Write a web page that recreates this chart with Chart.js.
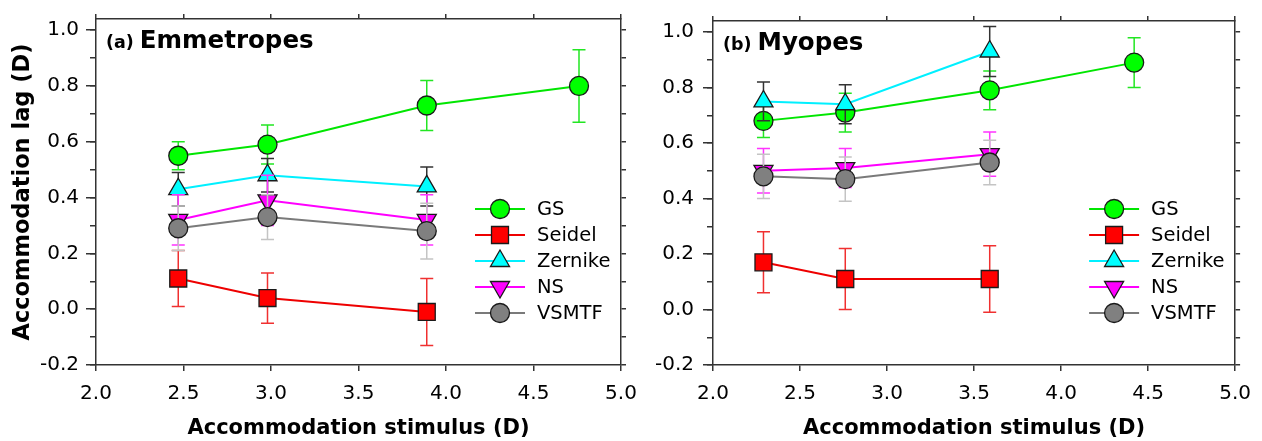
<!DOCTYPE html>
<html><head><meta charset="utf-8">
<script src="https://cdn.jsdelivr.net/npm/chart.js@4"></script>
<style>
html,body{margin:0;padding:0;background:#fff;}
#wrap{position:relative;width:1262px;height:441px;overflow:hidden;background:#fff;}
canvas{position:absolute;top:0;}
</style></head><body>
<div id="wrap">
<canvas id="ca" width="650" height="441" style="left:0px"></canvas>
<canvas id="cb" width="612" height="441" style="left:650px"></canvas>
</div>
<script>
// ---------- data ----------
const seriesNames = ['GS', 'Seidel', 'Zernike', 'NS', 'VSMTF'];
const yTickValues = [-0.2, 0.0, 0.2, 0.4, 0.6, 0.8, 1.0];
const xTickValues = [2.0, 2.5, 3.0, 3.5, 4.0, 4.5, 5.0];

// (a) Emmetropes
const emmStimulus = [2.47, 2.98, 3.89, 4.76];
const emmGS      = [0.55, 0.59, 0.73, 0.80];
const emmGSErr   = [0.05, 0.07, 0.09, 0.13];
const emmSeidel    = [0.11, 0.04, -0.01];
const emmSeidelErr = [0.10, 0.09, 0.12];
const emmZernike    = [0.43, 0.48, 0.44];
const emmZernikeErr = [0.06, 0.06, 0.07];
const emmNS    = [0.32, 0.39, 0.32];
const emmNSErr = [0.09, 0.09, 0.09];
const emmVSMTF    = [0.29, 0.33, 0.28];
const emmVSMTFErr = [0.08, 0.08, 0.10];

// (b) Myopes
const myoStimulus = [2.29, 2.76, 3.59, 4.42];
const myoGS      = [0.68, 0.71, 0.79, 0.89];
const myoGSErr   = [0.06, 0.07, 0.07, 0.09];
const myoSeidel    = [0.17, 0.11, 0.11];
const myoSeidelErr = [0.11, 0.11, 0.12];
const myoZernike    = [0.75, 0.74, 0.93];
const myoZernikeErr = [0.07, 0.07, 0.09];
const myoNS    = [0.50, 0.51, 0.56];
const myoNSErr = [0.08, 0.07, 0.08];
const myoVSMTF    = [0.48, 0.47, 0.53];
const myoVSMTFErr = [0.08, 0.08, 0.08];

// ---------- styles ----------
const STY = [
  {line:'#00e600', fill:'#00ff00', err:'#22e622', shape:'circle',   r:9.5, rot:0},
  {line:'#ee0000', fill:'#ff0000', err:'#f03030', shape:'rect',     r:12,  rot:0},
  {line:'#00f0ff', fill:'#00ffff', err:'#333333', shape:'triangle', r:11,  rot:0},
  {line:'#ff00ff', fill:'#ff00ff', err:'#ff33ff', shape:'triangle', r:11,  rot:180},
  {line:'#7a7a7a', fill:'#808080', err:'#c4c4c4', shape:'circle',   r:9.5, rot:0}
];
const FONT = '"DejaVu Sans", sans-serif';
Chart.defaults.font.family = FONT;
Chart.defaults.color = '#000';

function makeDatasets(xs, vals, errs) {
  return seriesNames.map((name, i) => ({
    label: name,
    data: vals[i].map((v, k) => ({x: xs[k], y: v})),
    errors: errs[i],
    borderColor: STY[i].line,
    backgroundColor: STY[i].fill,
    pointBackgroundColor: STY[i].fill,
    pointBorderColor: '#1a1a1a',
    pointBorderWidth: 1.3,
    pointStyle: STY[i].shape,
    pointRadius: STY[i].r,
    pointHoverRadius: STY[i].r,
    pointRotation: STY[i].rot,
    borderWidth: 2,
    tension: 0,
    fill: false,
    order: seriesNames.length - i
  }));
}

const errorBarPlugin = {
  id: 'errbars',
  beforeDatasetDraw(chart, args) {
    const ds = chart.data.datasets[args.index];
    const {ctx, chartArea} = chart;
    const xs = chart.scales.x, ys = chart.scales.y;
    ctx.save();
    ctx.beginPath();
    ctx.rect(chartArea.left, chartArea.top, chartArea.right - chartArea.left, chartArea.bottom - chartArea.top);
    ctx.clip();
    ctx.strokeStyle = STY[args.index].err;
    ctx.lineWidth = 1.5;
    ds.data.forEach((p, k) => {
      const e = ds.errors[k];
      const px = xs.getPixelForValue(p.x);
      const yt = ys.getPixelForValue(p.y + e);
      const yb = ys.getPixelForValue(p.y - e);
      ctx.beginPath();
      ctx.moveTo(px, yt); ctx.lineTo(px, yb);
      ctx.moveTo(px - 6.5, yt); ctx.lineTo(px + 6.5, yt);
      ctx.moveTo(px - 6.5, yb); ctx.lineTo(px + 6.5, yb);
      ctx.stroke();
    });
    ctx.restore();
  }
};

const legendPlugin = {
  id: 'sideLegend',
  afterDraw(chart, args, opts) {
    const {ctx, chartArea} = chart;
    const mx = chartArea.right - opts.dx;
    chart.data.datasets.forEach((ds, i) => {
      const y = chartArea.top + opts.top + i * opts.step;
      ctx.save();
      ctx.strokeStyle = ds.borderColor; ctx.lineWidth = 2;
      ctx.beginPath(); ctx.moveTo(mx - 25, y); ctx.lineTo(mx + 25, y); ctx.stroke();
      ctx.fillStyle = ds.pointBackgroundColor;
      ctx.strokeStyle = ds.pointBorderColor;
      ctx.lineWidth = ds.pointBorderWidth;
      Chart.helpers.drawPoint(ctx, {pointStyle: ds.pointStyle, radius: ds.pointRadius,
        rotation: ds.pointRotation, borderWidth: ds.pointBorderWidth}, mx, y);
      ctx.fillStyle = '#000';
      ctx.font = '19.5px ' + FONT;
      ctx.textBaseline = 'middle'; ctx.textAlign = 'left';
      ctx.fillText(ds.label, mx + 37, y + 1);
      ctx.restore();
    });
  }
};

const panelTitlePlugin = {
  id: 'panelTitle',
  afterDraw(chart, args, opts) {
    const {ctx, chartArea} = chart;
    ctx.save();
    ctx.fillStyle = '#000'; ctx.textBaseline = 'alphabetic'; ctx.textAlign = 'left';
    const x0 = chartArea.left + 10, yb = chartArea.top + 29;
    ctx.font = 'bold 17.5px ' + FONT;
    ctx.fillText(opts.tag, x0, yb);
    const w = ctx.measureText(opts.tag).width;
    ctx.font = 'bold 24.5px ' + FONT;
    ctx.fillText(opts.name, x0 + w + 6, yb);
    ctx.restore();
  }
};

const AXC = '#333';
function yFmt(v) { const r = Math.round(v * 10) / 10; return yTickValues.includes(r) ? r.toFixed(1) : ''; }
function xFmt(v) { return xTickValues.includes(v) ? v.toFixed(1) : ''; }

function makeScales(leftW, rightW, yTitle, yPad) {
  const yMin = yTickValues[0], yMax = 1.04;
  return {
    x: {
      type: 'linear', position: 'bottom', min: xTickValues[0], max: xTickValues[xTickValues.length - 1],
      ticks: {stepSize: 0.5, padding: 11, font: {size: 20}, color: '#000', callback: xFmt, maxRotation: 0},
      grid: {drawOnChartArea: false, tickLength: 6, color: AXC, lineWidth: 1.5},
      border: {color: AXC, width: 1.5},
      title: {display: true, text: 'Accommodation stimulus (D)', font: {size: 21, weight: 'bold'}, color: '#000', padding: {top: 0, bottom: 0}},
      afterFit(s) { s.height = 76; }
    },
    x2: {
      type: 'linear', position: 'top', min: xTickValues[0], max: xTickValues[xTickValues.length - 1],
      ticks: {stepSize: 0.5, display: false},
      grid: {drawOnChartArea: false, tickLength: 5, color: AXC, lineWidth: 1.5},
      border: {color: AXC, width: 1.5},
      afterFit(s) { s.height = 15; }
    },
    y: {
      type: 'linear', position: 'left', min: yMin, max: yMax, weight: 1,
      ticks: {stepSize: 0.2, includeBounds: false, padding: yPad, font: {size: 20}, color: '#000', callback: yFmt},
      grid: {drawOnChartArea: false, tickLength: 10, color: AXC, lineWidth: 1.5},
      border: {color: AXC, width: 1.5},
      title: {display: !!yTitle, text: yTitle || '', font: {size: 22.5, weight: 'bold'}, color: '#000', padding: {top: 10, bottom: 0}},
      afterFit(s) { s.width = leftW; }
    },
    yMinor: {
      type: 'linear', position: 'left', min: yMin, max: yMax, weight: 0,
      ticks: {stepSize: 0.1, includeBounds: false, display: false},
      grid: {drawOnChartArea: false, tickLength: 6, color: AXC, lineWidth: 1.5},
      border: {display: false},
      afterFit(s) { s.width = 0; }
    },
    y2: {
      type: 'linear', position: 'right', min: yMin, max: yMax,
      ticks: {stepSize: 0.1, includeBounds: false, display: false},
      grid: {drawOnChartArea: false, tickLength: 5, color: AXC, lineWidth: 1.5},
      border: {color: AXC, width: 1.5},
      afterFit(s) { s.width = rightW; }
    }
  };
}

function makeChart(id, xs, vals, errs, tag, name, leftW, rightW, yTitle, yPad, legTop) {
  return new Chart(document.getElementById(id), {
    type: 'line',
    data: {datasets: makeDatasets(xs, vals, errs)},
    options: {
      responsive: false, maintainAspectRatio: false, animation: false,
      layout: {padding: 0},
      scales: makeScales(leftW, rightW, yTitle, yPad),
      plugins: {
        legend: {display: false}, tooltip: {enabled: false},
        sideLegend: {dx: 121, top: legTop, step: 26},
        panelTitle: {tag: tag, name: name}
      }
    },
    plugins: [errorBarPlugin, legendPlugin, panelTitlePlugin]
  });
}

makeChart('ca', emmStimulus,
  [emmGS, emmSeidel, emmZernike, emmNS, emmVSMTF],
  [emmGSErr, emmSeidelErr, emmZernikeErr, emmNSErr, emmVSMTFErr],
  '(a)', 'Emmetropes', 96, 29, 'Accommodation lag (D)', 7, 190);

makeChart('cb', myoStimulus,
  [myoGS, myoSeidel, myoZernike, myoNS, myoVSMTF],
  [myoGSErr, myoSeidelErr, myoZernikeErr, myoNSErr, myoVSMTFErr],
  '(b)', 'Myopes', 63, 25, '', 9, 188);
</script>
</body></html>
